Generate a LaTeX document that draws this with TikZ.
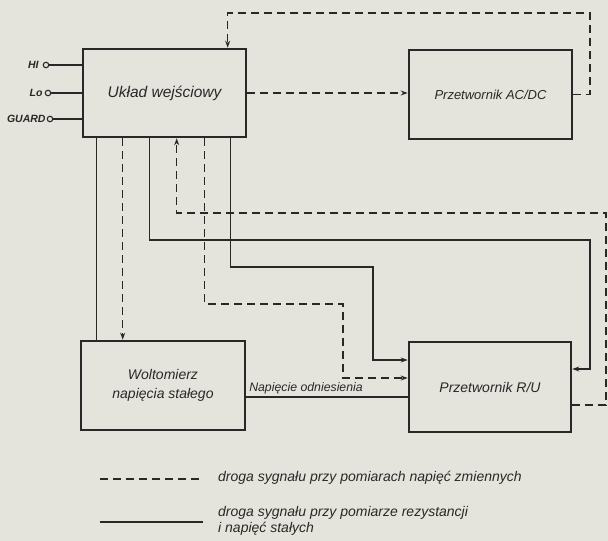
\documentclass[tikz,border=0pt]{standalone}
\usepackage{fontspec}
\setmainfont{Liberation Sans}
\usetikzlibrary{arrows.meta}
\definecolor{ink}{RGB}{40,40,40}
\definecolor{paper}{RGB}{228,228,220}
\tikzset{
  blk/.style={draw=ink, line width=2.6pt, fill=none, rectangle, inner sep=0pt, align=center,
    font=\fontsize{14}{19}\selectfont\itshape, text=ink},
  wire/.style={draw=ink, line width=1.3pt},
  dwire/.style={draw=ink, line width=1.3pt, dash pattern=on 8pt off 5pt},
  tip/.style={-{Stealth[length=7pt,width=5pt]}},
  term/.style={circle, draw=ink, line width=1.1pt, inner sep=0pt, minimum size=5.5pt, fill=paper},
  inlbl/.style={font=\fontsize{10.5}{12}\selectfont\itshape\bfseries, text=ink, inner sep=1pt},
  leg/.style={font=\fontsize{14}{16.5}\selectfont\itshape, text=ink, anchor=west, align=left, inner sep=0pt},
  small/.style={font=\fontsize{12.3}{14}\selectfont\itshape, text=ink, inner sep=1pt}
}
\begin{document}
\begin{tikzpicture}[x=1pt,y=-1pt]
\fill[paper] (0,0) rectangle (608,541);
\useasboundingbox (0,0) rectangle (608,541);

% blocks
\node[blk, minimum width=163pt, minimum height=88pt, font=\fontsize{15.5}{19}\selectfont\itshape] (uk) at (164.5,93) {Układ wejściowy};
\node[blk, minimum width=163pt, minimum height=89pt, font=\fontsize{13}{19}\selectfont\itshape] (ac) at (490.5,94.5) {Przetwornik AC/DC};
\node[blk, minimum width=164pt, minimum height=89pt] (wo) at (163,385.5) {Woltomierz\\napięcia stałego};
\node[blk, minimum width=162pt, minimum height=90pt] (ru) at (490,387) {Przetwornik R/U};

% inputs
\node[term, label={[inlbl, label distance=3pt]left:HI}] (hi) at (46,65) {};
\node[term, label={[inlbl, label distance=1pt]left:Lo}] (lo) at (48,93) {};
\node[term, label={[inlbl, label distance=0pt]left:GUARD}] (gd) at (50,119) {};
\draw[wire] (hi) -- (hi -| uk.west);
\draw[wire] (lo) -- (lo -| uk.west);
\draw[wire] (gd) -- (gd -| uk.west);

% helper coordinates
\coordinate (topR) at (590,13);
\coordinate (rr) at (606,213);
\coordinate (sr) at (590,240);
\coordinate (sm) at (373,267);
\coordinate (dm) at (343,304);

% AC/DC loop back to input block
\draw[dwire, tip] (ac.east) -| (topR) -| ([xshift=146pt]uk.north west);
\draw[dwire, tip] (uk.east) -- (uk.east -| ac.west);

% R/U back to input block (dashed)
\draw[dwire, tip] ([yshift=-18pt]ru.east) -| (rr) -| ([xshift=95pt]uk.south west);

% solid paths to R/U
\draw[wire, tip] ([xshift=68pt]uk.south west) |- (sr) |- ([yshift=18pt]ru.east);
\draw[wire, tip] ([xshift=149pt]uk.south west) |- (sm) |- ([yshift=27pt]ru.west);
% dashed path to R/U
\draw[dwire, tip] ([xshift=123pt]uk.south west) |- (dm) |- ([yshift=9pt]ru.west);

% input block to voltmeter
\draw[wire] ([xshift=15pt]uk.south west) -- ([xshift=17pt]wo.north west);
\draw[dwire, tip] ([xshift=41pt]uk.south west) -- ([xshift=43pt]wo.north west);

% reference voltage
\draw[wire] ([yshift=-11.5pt]wo.east) -- node[small, pos=0.37, above, yshift=-1pt] (ref) {\underline{Napięcie odniesienia}} ([yshift=-10pt]ru.west);

% legend
\coordinate (l1a) at (100,479);
\coordinate (l1b) at (203,479);
\coordinate (l2a) at (100,522);
\coordinate (l2b) at (203,522);
\draw[dwire] (l1a) -- (l1b);
\draw[wire] (l2a) -- (l2b);
\node[leg] (t1) at (218,478) {droga sygnału przy pomiarach napięć zmiennych};
\node[leg] (t2) at (218,521) {droga sygnału przy pomiarze rezystancji\\i napięć stałych};
\end{tikzpicture}
\end{document}
